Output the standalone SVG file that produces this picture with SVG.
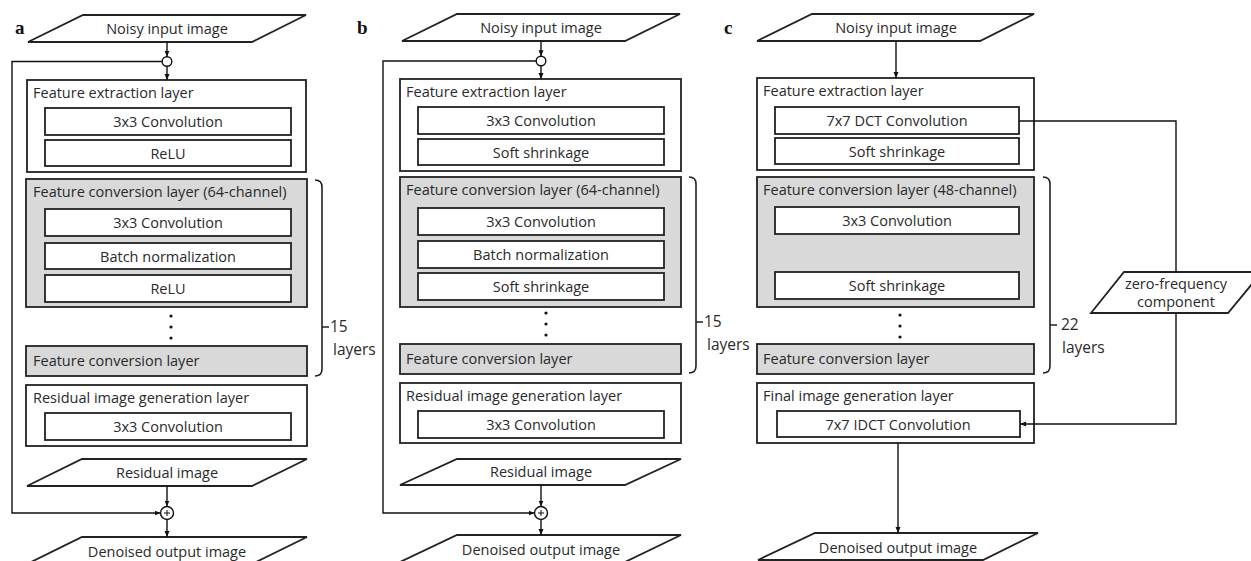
<svg xmlns="http://www.w3.org/2000/svg" width="1251" height="561" viewBox="0 0 1251 561">
<defs>
<marker id="ah" markerWidth="6" markerHeight="6" refX="6" refY="3" orient="auto" markerUnits="userSpaceOnUse">
<path d="M0,0.5 L6,3 L0,5.5 Z" fill="#111"/>
</marker>
<style>
.box{fill:#fff;stroke:#222;stroke-width:1.8}
.gray{fill:#d9d9d9;stroke:#222;stroke-width:1.8}
.inner{fill:#fff;stroke:#222;stroke-width:1.8}
.io{fill:#fff;stroke:#222;stroke-width:1.8}
.ln{fill:none;stroke:#111;stroke-width:1.4}
.lna{fill:none;stroke:#111;stroke-width:1.4;marker-end:url(#ah)}
.br{fill:none;stroke:#222;stroke-width:1.6}
.t{font-family:"Open Sans","Noto Sans",sans-serif;font-size:14.5px;fill:#2a2a2a}
.n{font-family:"Open Sans","Noto Sans",sans-serif;font-size:15.5px;fill:#2a2a2a}
.c{text-anchor:middle}
.lbl{font-family:"Liberation Serif",serif;font-size:19px;font-weight:bold;fill:#111}
.dot{fill:#111}
</style>
</defs>
<rect width="1251" height="561" fill="#fff"/>

<!-- Panel labels -->
<text class="lbl" x="15" y="34">a</text>
<text class="lbl" x="357" y="34">b</text>
<text class="lbl" x="724" y="34">c</text>

<!-- ================= Panel a ================= -->
<g id="a-input">
<polygon class="io" points="83,15 306,15 252,42 28,42"/>
<text class="t c" x="167" y="34">Noisy input image</text>
</g>
<g id="a-split"><circle cx="167" cy="61.5" r="4.8" fill="#fff" stroke="#111" stroke-width="1.4"/></g>
<g id="a-fe">
<rect class="box" x="27" y="80" width="279" height="92"/>
<text class="t" x="33" y="98">Feature extraction layer</text>
<rect class="inner" x="45" y="108" width="246" height="27"/>
<text class="t c" x="168" y="127">3x3 Convolution</text>
<rect class="inner" x="45" y="140" width="246" height="26"/>
<text class="t c" x="168" y="158.5">ReLU</text>
</g>
<g id="a-fc">
<rect class="gray" x="26" y="179" width="281" height="128"/>
<text class="t" x="33" y="197">Feature conversion layer (64-channel)</text>
<rect class="inner" x="45" y="209" width="246" height="27"/>
<text class="t c" x="168" y="228">3x3 Convolution</text>
<rect class="inner" x="45" y="243" width="246" height="26"/>
<text class="t c" x="168" y="261.5">Batch normalization</text>
<rect class="inner" x="45" y="275" width="246" height="27"/>
<text class="t c" x="168" y="294">ReLU</text>
</g>
<g id="a-dots">
<circle class="dot" cx="171" cy="316" r="1.6"/>
<circle class="dot" cx="171" cy="327" r="1.6"/>
<circle class="dot" cx="171" cy="338" r="1.6"/>
</g>
<g id="a-fcl">
<rect class="gray" x="26" y="346" width="281" height="30"/>
<text class="t" x="33" y="366">Feature conversion layer</text>
</g>
<g id="a-bracket">
<path class="br" d="M315,180 Q322,180 322,187 L322,369 Q322,376 315,376 M322,327 H329"/>
<text class="n" x="330" y="332">15</text>
<text class="n" x="333" y="355">layers</text>
</g>
<g id="a-rg">
<rect class="box" x="26" y="385" width="281" height="61"/>
<text class="t" x="33" y="403">Residual image generation layer</text>
<rect class="inner" x="45" y="413" width="246" height="27"/>
<text class="t c" x="168" y="432">3x3 Convolution</text>
</g>
<g id="a-residual">
<polygon class="io" points="82,459 307,459 252,486 27,486"/>
<text class="t c" x="167" y="478">Residual image</text>
</g>
<g id="a-plus">
<circle cx="167" cy="513" r="6.5" fill="#fff" stroke="#111" stroke-width="1.4"/>
<path d="M164,513 H170 M167,510 V516" stroke="#111" stroke-width="1"/>
</g>
<g id="a-output">
<polygon class="io" points="82,537 307,537 252,564 27,564"/>
<text class="t c" x="167" y="557">Denoised output image</text>
</g>

<!-- ================= Panel b ================= -->
<g id="b-input">
<polygon class="io" points="457,14 680,14 625,41 402,41"/>
<text class="t c" x="541" y="33">Noisy input image</text>
</g>
<g id="b-split"><circle cx="541" cy="61" r="4.8" fill="#fff" stroke="#111" stroke-width="1.4"/></g>
<g id="b-fe">
<rect class="box" x="400" y="79" width="281" height="92"/>
<text class="t" x="406" y="97">Feature extraction layer</text>
<rect class="inner" x="418" y="107" width="246" height="27"/>
<text class="t c" x="541" y="126">3x3 Convolution</text>
<rect class="inner" x="418" y="139" width="246" height="26"/>
<text class="t c" x="541" y="157.5">Soft shrinkage</text>
</g>
<g id="b-fc">
<rect class="gray" x="400" y="177" width="281" height="130"/>
<text class="t" x="406" y="195">Feature conversion layer (64-channel)</text>
<rect class="inner" x="418" y="208" width="246" height="27"/>
<text class="t c" x="541" y="227">3x3 Convolution</text>
<rect class="inner" x="418" y="241" width="246" height="27"/>
<text class="t c" x="541" y="260">Batch normalization</text>
<rect class="inner" x="418" y="273" width="246" height="27"/>
<text class="t c" x="541" y="292">Soft shrinkage</text>
</g>
<g id="b-dots">
<circle class="dot" cx="546" cy="313" r="1.6"/>
<circle class="dot" cx="546" cy="324" r="1.6"/>
<circle class="dot" cx="546" cy="335" r="1.6"/>
</g>
<g id="b-fcl">
<rect class="gray" x="400" y="344" width="281" height="30"/>
<text class="t" x="406" y="364">Feature conversion layer</text>
</g>
<g id="b-bracket">
<path class="br" d="M689,177 Q696,177 696,184 L696,366 Q696,373 689,373 M696,322 H703"/>
<text class="n" x="704" y="327">15</text>
<text class="n" x="707" y="350">layers</text>
</g>
<g id="b-rg">
<rect class="box" x="400" y="383" width="281" height="60"/>
<text class="t" x="406" y="401">Residual image generation layer</text>
<rect class="inner" x="418" y="411" width="246" height="27"/>
<text class="t c" x="541" y="430">3x3 Convolution</text>
</g>
<g id="b-residual">
<polygon class="io" points="457,459 681,459 625,485 400,485"/>
<text class="t c" x="541" y="477">Residual image</text>
</g>
<g id="b-plus">
<circle cx="541" cy="513" r="6.5" fill="#fff" stroke="#111" stroke-width="1.4"/>
<path d="M538,513 H544 M541,510 V516" stroke="#111" stroke-width="1"/>
</g>
<g id="b-output">
<polygon class="io" points="457,535 681,535 625,562 400,562"/>
<text class="t c" x="541" y="555">Denoised output image</text>
</g>

<!-- ================= Panel c ================= -->
<g id="c-input">
<polygon class="io" points="812,14 1034,14 980,41 757,41"/>
<text class="t c" x="896" y="33">Noisy input image</text>
</g>
<g id="c-fe">
<rect class="box" x="757" y="78" width="277" height="92"/>
<text class="t" x="763" y="96">Feature extraction layer</text>
<rect class="inner" x="775" y="107" width="244" height="27"/>
<text class="t c" x="897" y="126">7x7 DCT Convolution</text>
<rect class="inner" x="775" y="138" width="244" height="26"/>
<text class="t c" x="897" y="156.5">Soft shrinkage</text>
</g>
<g id="c-fc">
<rect class="gray" x="757" y="177" width="277" height="130"/>
<text class="t" x="763" y="195">Feature conversion layer (48-channel)</text>
<rect class="inner" x="775" y="207" width="244" height="27"/>
<text class="t c" x="897" y="226">3x3 Convolution</text>
<rect class="inner" x="775" y="272" width="244" height="27"/>
<text class="t c" x="897" y="291">Soft shrinkage</text>
</g>
<g id="c-dots">
<circle class="dot" cx="900" cy="315" r="1.6"/>
<circle class="dot" cx="900" cy="326" r="1.6"/>
<circle class="dot" cx="900" cy="337" r="1.6"/>
</g>
<g id="c-fcl">
<rect class="gray" x="757" y="344" width="277" height="30"/>
<text class="t" x="763" y="364">Feature conversion layer</text>
</g>
<g id="c-bracket">
<path class="br" d="M1043,177 Q1050,177 1050,184 L1050,366 Q1050,373 1043,373 M1050,325 H1057"/>
<text class="n" x="1061" y="330">22</text>
<text class="n" x="1062" y="353">layers</text>
</g>
<g id="c-fg">
<rect class="box" x="757" y="383" width="277" height="60"/>
<text class="t" x="763" y="401">Final image generation layer</text>
<rect class="inner" x="777" y="411" width="243" height="26"/>
<text class="t c" x="898" y="429.5">7x7 IDCT Convolution</text>
</g>
<g id="c-zero">
<polygon class="io" points="1124,272 1262,272 1228,313 1091,313"/>
<text class="t c" x="1176" y="289">zero-frequency</text>
<text class="t c" x="1176" y="307">component</text>
</g>
<g id="c-output">
<polygon class="io" points="815,533 1038,533 983,560 758,560"/>
<text class="t c" x="898" y="553">Denoised output image</text>
</g>

<!-- ================= Connectors ================= -->
<g id="connectors">
<line class="lna" x1="167" y1="42" x2="167" y2="56.7"/>
<line class="lna" x1="167" y1="66.3" x2="167" y2="80"/>
<path class="lna" d="M162.2,61.5 H12 V513 H160.5"/>
<line class="lna" x1="167" y1="486" x2="167" y2="506.5"/>
<line class="lna" x1="167" y1="519.5" x2="167" y2="537"/>

<line class="lna" x1="541" y1="41" x2="541" y2="56.2"/>
<line class="lna" x1="541" y1="65.8" x2="541" y2="79"/>
<path class="lna" d="M536.2,61 H383 V513 H534.5"/>
<line class="lna" x1="541" y1="485" x2="541" y2="506.5"/>
<line class="lna" x1="541" y1="519.5" x2="541" y2="535"/>

<line class="lna" x1="896" y1="41" x2="896" y2="78"/>
<path class="ln" d="M1019,121 H1176 V272"/>
<path class="lna" d="M1176,313 V424 H1020"/>
<line class="lna" x1="898" y1="443" x2="898" y2="533"/>
</g>
</svg>
